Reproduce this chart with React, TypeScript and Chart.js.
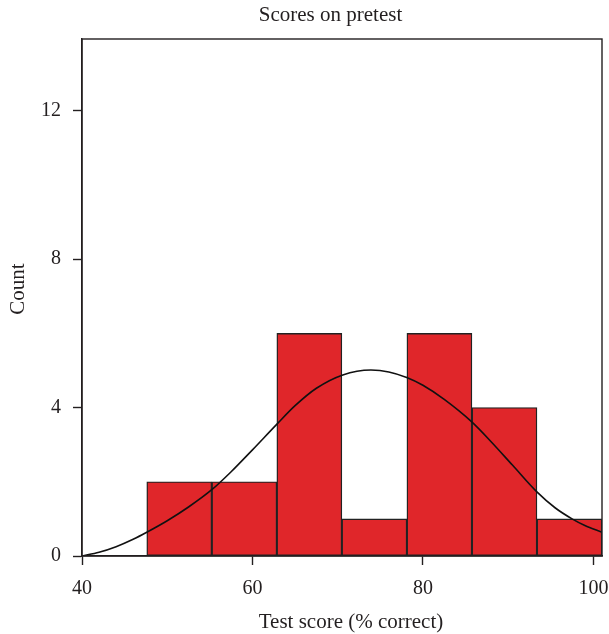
import { useEffect, useRef } from "react";
import { Chart, registerables } from "chart.js";

Chart.register(...registerables);

const chartTitle = "Scores on pretest";
const xAxisTitle = "Test score (% correct)";
const yAxisTitle = "Count";

const binEdges = [47.6, 55.23, 62.86, 70.49, 78.12, 85.75, 93.38, 101.01];
const binCounts = [2, 2, 6, 1, 6, 4, 1];

const curveX = [40, 42, 44, 46, 47.6, 50, 52.5, 55.3, 57.5, 60, 62.9, 65, 67.5, 70.6, 73.9, 76, 78.1, 80, 82.5, 85.7, 88, 90.5, 93.4, 95.5, 97.5, 99, 101];
const curveY = [0, 0.1, 0.25, 0.45, 0.64, 0.95, 1.32, 1.8, 2.27, 2.86, 3.56, 4.05, 4.52, 4.88, 5.01, 4.96, 4.81, 4.6, 4.22, 3.62, 3.08, 2.45, 1.72, 1.3, 1.0, 0.82, 0.64];

const xTickValues = [40, 60, 80, 100];
const yTickValues = [0, 4, 8, 12];
const xRange = [40, 101.01];
const yRange = [0, 13.93];

const INK = "#231f20";
const FONT = '"Liberation Serif", "Times New Roman", serif';

const framePlugin = {
  id: "frameAndTitles",
  afterDatasetsDraw(chart: any) {
    const { ctx, chartArea: a } = chart;
    ctx.save();
    ctx.strokeStyle = INK;
    ctx.lineWidth = 1.4;
    ctx.strokeRect(a.left, a.top, a.right - a.left, a.bottom - a.top);
    ctx.restore();
  },
  afterDraw(chart: any) {
    const { ctx } = chart;
    ctx.save();
    ctx.fillStyle = INK;
    ctx.font = `21px ${FONT}`;
    ctx.textAlign = "center";
    ctx.textBaseline = "alphabetic";
    ctx.fillText(chartTitle, 330.5, 21);
    ctx.fillText(xAxisTitle, 351, 628);
    ctx.translate(24, 289);
    ctx.rotate(-Math.PI / 2);
    ctx.fillText(yAxisTitle, 0, 0);
    ctx.restore();
  },
};

export default function App() {
  const ref = useRef<HTMLCanvasElement | null>(null);

  useEffect(() => {
    if (!ref.current) return;
    const bars = binCounts.map((c, i) => ({
      x: (binEdges[i] + binEdges[i + 1]) / 2,
      y: c,
    }));
    const curve = curveX.map((x, i) => ({ x, y: curveY[i] }));

    const chart = new Chart(ref.current, {
      type: "bar",
      data: {
        datasets: [
          {
            type: "line",
            data: curve,
            borderColor: "#111111",
            borderWidth: 1.6,
            pointRadius: 0,
            fill: false,
            cubicInterpolationMode: "monotone",
            order: 0,
          } as any,
          {
            type: "bar",
            data: bars,
            backgroundColor: "#e0262a",
            borderColor: "#222222",
            borderWidth: 1.4,
            borderSkipped: false,
            barPercentage: 1,
            categoryPercentage: 1,
            grouped: false,
            order: 1,
          } as any,
        ],
      },
      options: {
        responsive: false,
        animation: false,
        devicePixelRatio: 1,
        layout: { padding: { top: 39, right: 7, bottom: 0, left: 0 } },
        plugins: {
          legend: { display: false },
          tooltip: { enabled: false },
          title: { display: false },
        },
        scales: {
          x: {
            type: "linear",
            min: xRange[0],
            max: xRange[1],
            offset: false,
            afterBuildTicks: (s: any) => {
              s.ticks = xTickValues.map((v) => ({ value: v }));
            },
            afterFit: (s: any) => {
              s.height = 78;
              s.paddingLeft = 0;
              s.paddingRight = 0;
            },
            grid: {
              drawOnChartArea: false,
              drawTicks: true,
              tickLength: 9,
              tickColor: INK,
              tickWidth: 1.4,
              offset: false,
            },
            border: { display: true, color: INK, width: 1.4 },
            ticks: {
              font: { family: FONT, size: 20 },
              color: INK,
              padding: 12,
              maxRotation: 0,
              autoSkip: false,
            },
          },
          y: {
            type: "linear",
            min: yRange[0],
            max: yRange[1],
            afterBuildTicks: (s: any) => {
              s.ticks = yTickValues.map((v) => ({ value: v }));
            },
            afterFit: (s: any) => {
              s.width = 82;
              s.paddingTop = 0;
              s.paddingBottom = 0;
            },
            grid: {
              drawOnChartArea: false,
              drawTicks: true,
              tickLength: 9,
              tickColor: INK,
              tickWidth: 1.4,
            },
            border: { display: true, color: INK, width: 1.4 },
            ticks: {
              font: { family: FONT, size: 20 },
              color: INK,
              padding: 12,
              autoSkip: false,
            },
          },
        },
      } as any,
      plugins: [framePlugin],
    });
    return () => chart.destroy();
  }, []);

  return (
    <div style={{ position: "fixed", left: 0, top: 0, width: 609, height: 634 }}>
      <canvas ref={ref} width={609} height={634} style={{ display: "block", width: 609, height: 634 }} />
    </div>
  );
}
